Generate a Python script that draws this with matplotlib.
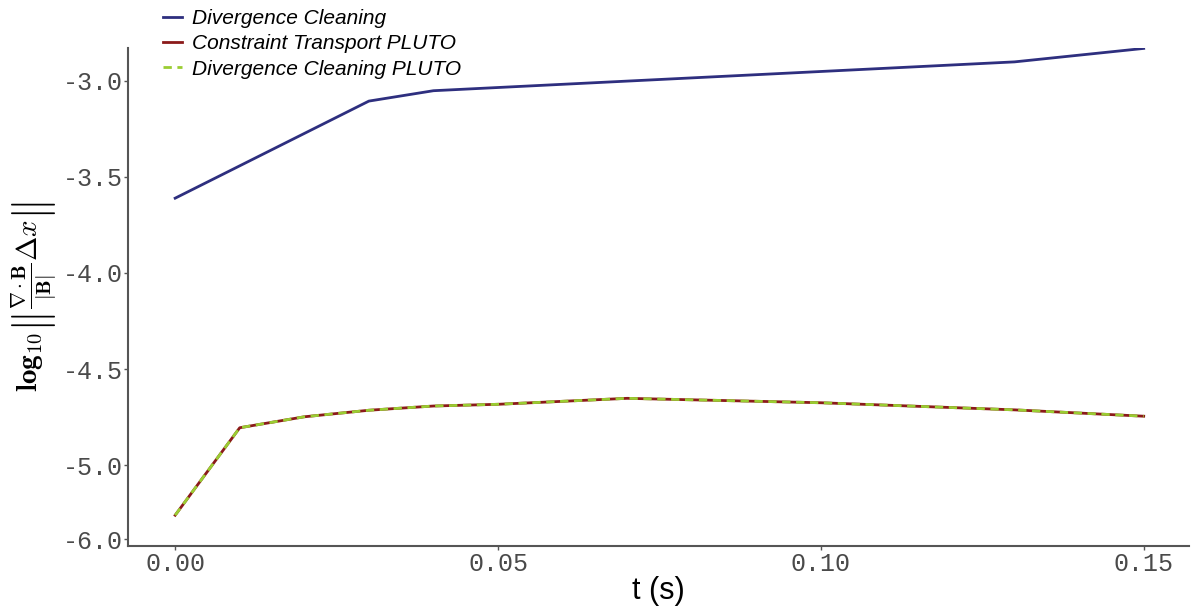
import matplotlib
matplotlib.use("Agg")
import matplotlib.pyplot as plt

plt.rcParams['mathtext.fontset'] = 'cm'

# Divergence Cleaning (own code)
t_dc = [0.0, 0.03, 0.04, 0.13, 0.15]
err_dc = [-3.611, -3.106, -3.052, -2.902, -2.832]

# PLUTO runs (both curves overlap)
t_pluto = [0.0, 0.01, 0.02, 0.03, 0.04, 0.05, 0.07, 0.10, 0.13, 0.15]
err_ct = [-5.26, -4.805, -4.748, -4.714, -4.692, -4.683, -4.652, -4.675, -4.712, -4.745]
err_dcp = [-5.26, -4.805, -4.748, -4.714, -4.692, -4.683, -4.652, -4.675, -4.712, -4.745]

xticks = [0.00, 0.05, 0.10, 0.15]
xtick_labels = ['0.00', '0.05', '0.10', '0.15']
yticks = [-3.0, -3.5, -4.0, -4.5, -5.0, -5.385]
ytick_labels = ['-3.0', '-3.5', '-4.0', '-4.5', '-5.0', '-6.0']

fig = plt.figure(figsize=(11.92, 6.08), dpi=100)
ax = fig.add_axes([0.1074, 0.102, 0.89, 0.819])

ax.plot(t_dc, err_dc, color='#2e2f7f', lw=2.0, label='Divergence Cleaning')
ax.plot(t_pluto, err_ct, color='#8b1a1a', lw=2.0, label='Constraint Transport PLUTO')
ax.plot(t_pluto, err_dcp, color='#9acd32', lw=2.0, ls=(0, (3, 2)),
        label='Divergence Cleaning PLUTO')

ax.set_xlim(-0.0073, 0.157)
ax.set_ylim(-5.42, -2.83)
ax.set_xticks(xticks)
ax.set_xticklabels(xtick_labels)
ax.set_yticks(yticks)
ax.set_yticklabels(ytick_labels)

for s in ['top', 'right']:
    ax.spines[s].set_visible(False)
for s in ['left', 'bottom']:
    ax.spines[s].set_color('#555555')
    ax.spines[s].set_linewidth(1.5)

ax.tick_params(axis='both', colors='#555555', labelcolor='#4a4a4a',
               length=3, width=1, labelsize=18, pad=1)
for lab in ax.get_xticklabels() + ax.get_yticklabels():
    lab.set_fontfamily('Liberation Mono')

ax.set_xlabel('t (s)', fontsize=22, fontfamily='Liberation Sans', labelpad=0)
ax.set_ylabel(r'$\mathbf{log_{10}}\left\|\frac{\mathbf{\nabla\cdot B}}{\mathbf{|B|}}\mathbf{\Delta} x\right\|$',
              fontsize=21, labelpad=2)

leg = ax.legend(loc='upper left', bbox_to_anchor=(0.121, 1.016), bbox_transform=fig.transFigure,
                frameon=False, handlelength=0.9, handletextpad=0.5, labelspacing=0.3,
                prop={'family': 'Liberation Sans', 'style': 'italic', 'size': 15})

fig.savefig('out.png', dpi=100)
